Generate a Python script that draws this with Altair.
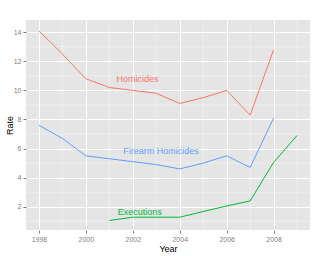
import altair as alt
import pandas as pd

years = list(range(1998, 2010))
homicides = [14.1, 12.5, 10.8, 10.2, 10.0, 9.8, 9.1, 9.5, 10.0, 8.3, 12.8, None]
firearm = [7.6, 6.7, 5.5, 5.3, 5.1, 4.9, 4.6, 5.0, 5.5, 4.7, 8.1, None]
executions = [None, None, None, 1.05, 1.28, 1.28, 1.28, 1.67, 2.05, 2.4, 5.05, 6.9]

series_names = ["Homicides", "Firearm Homicides", "Executions"]
series_colors = ["#F8766D", "#619CFF", "#00BA38"]

label_x = [2002.2, 2003.2, 2002.3]
label_y = [10.8, 5.85, 1.67]

x_major = [1998, 2000, 2002, 2004, 2006, 2008]
x_minor = [1999, 2001, 2003, 2005, 2007, 2009]
y_major = [2, 4, 6, 8, 10, 12, 14]
y_minor = [1, 3, 5, 7, 9, 11, 13]

rows = []
for name, vals in zip(series_names, [homicides, firearm, executions]):
    for yr, v in zip(years, vals):
        if v is not None:
            rows.append({"Year": yr, "Rate": v, "series": name})
df = pd.DataFrame(rows)
labels = pd.DataFrame({"Year": label_x, "Rate": label_y, "series": series_names})

xscale = alt.Scale(domain=[1997.45, 2009.55], nice=False, zero=False)
yscale = alt.Scale(domain=[0.4, 14.84], nice=False, zero=False)
color = alt.Color("series:N", scale=alt.Scale(domain=series_names, range=series_colors), legend=None)

common = dict(
    gridColor="white", gridWidth=1,
    tickColor="#7F7F7F", tickSize=3, domain=False,
    labelColor="#7F7F7F", labelFontSize=7, labelPadding=2,
    titleFontSize=9, titleFontWeight="normal", titleColor="black",
    labelFont="Liberation Sans", titleFont="Liberation Sans",
)
xaxis = alt.Axis(values=x_major, format="d", title="Year", titlePadding=2, **common)
yaxis = alt.Axis(values=y_major, format="d", title="Rate", titlePadding=-1, **common)

minor_x = alt.Chart(pd.DataFrame({"Year": x_minor})).mark_rule(
    color="white", strokeWidth=0.5, opacity=0.75
).encode(x=alt.X("Year:Q", scale=xscale, axis=xaxis))
minor_y = alt.Chart(pd.DataFrame({"Rate": y_minor})).mark_rule(
    color="white", strokeWidth=0.5, opacity=0.75
).encode(y=alt.Y("Rate:Q", scale=yscale, axis=yaxis))

lines = alt.Chart(df).mark_line(strokeWidth=1).encode(
    x=alt.X("Year:Q", scale=xscale, axis=xaxis),
    y=alt.Y("Rate:Q", scale=yscale, axis=yaxis),
    color=color,
    detail="series:N",
)
texts = alt.Chart(labels).mark_text(fontSize=9, font="Liberation Sans").encode(
    x=alt.X("Year:Q", scale=xscale, axis=xaxis),
    y=alt.Y("Rate:Q", scale=yscale, axis=yaxis),
    text="series:N",
    color=color,
)

chart = alt.layer(minor_x, minor_y, lines, texts).properties(
    width=284, height=210,
    autosize=alt.AutoSizeParams(type="none"),
    padding={"left": 26, "top": 20, "right": 10, "bottom": 26},
    background="white",
).configure_view(fill="#E5E5E5", stroke=None)

chart.save("out.html", embed_options={"renderer": "svg", "actions": False})
